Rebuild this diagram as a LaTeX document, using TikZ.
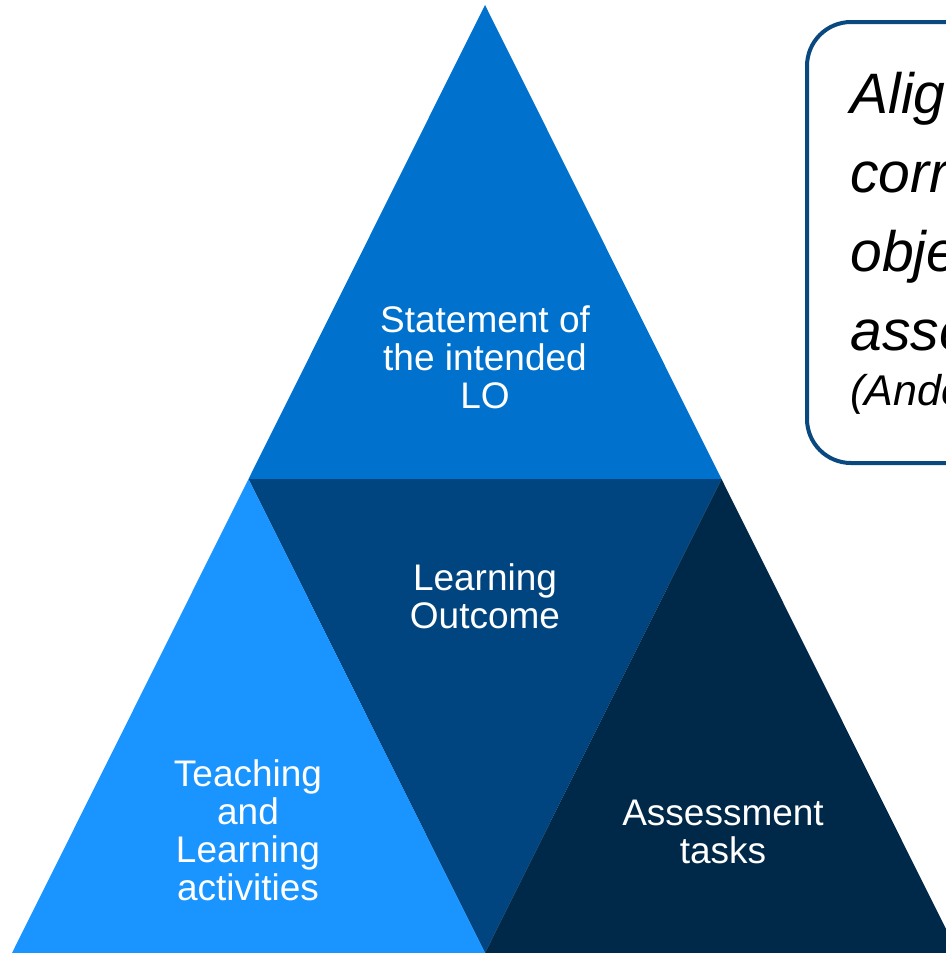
\documentclass[tikz,border=0pt]{standalone}
\usepackage{fontspec}
\setmainfont{Liberation Sans}
\usepackage{tikz}
\definecolor{TopBlue}{RGB}{0,114,206}
\definecolor{MidBlue}{RGB}{0,69,128}
\definecolor{LeftBlue}{RGB}{26,148,255}
\definecolor{RightBlue}{RGB}{0,40,72}
\definecolor{BoxLine}{RGB}{10,72,128}

\begin{document}
\begin{tikzpicture}[x=0.5pt, y=-0.5pt,
  label_text/.style={text=white, align=center, inner sep=0pt,
    font=\fontsize{18.5}{19}\selectfont},
  quote_box/.style={draw=BoxLine, line width=2pt, rounded corners=22pt}]

 \clip (0,0) rectangle (946,953);

 % corners of the big triangle and the mid points
 \coordinate (apex) at (485,5);
 \coordinate (mid_left) at (248.5,479);
 \coordinate (mid_right) at (721.5,479);
 \coordinate (bottom_left) at (12,953);
 \coordinate (bottom_mid) at (485,953);
 \coordinate (bottom_right) at (958,953);

 \fill [TopBlue] (apex) -- (mid_right) -- (mid_left) -- cycle;
 \fill [MidBlue] (mid_left) -- (mid_right) -- (bottom_mid) -- cycle;
 \fill [LeftBlue] (mid_left) -- (bottom_mid) -- (bottom_left) -- cycle;
 \fill [RightBlue] (mid_right) -- (bottom_right) -- (bottom_mid) -- cycle;


 \node [label_text] (statement) at (485,357)
     {Statement of\\the intended\\LO};

 \node [label_text] (outcome) at (485,596)
     {Learning\\Outcome};

 \node [label_text] (teaching) at (248,830)
     {Teaching\\and\\Learning\\activities};

 \node [label_text] (assessment) at (723,832)
     {Assessment\\tasks};


 \draw [quote_box] (807,22) rectangle (1040,463);

 \node [anchor=north west, inner sep=0pt, align=left,
        font=\fontsize{28.5}{39.5}\selectfont\itshape] (quote) at (850,72)
     {Alignment refers to the degree of\\correspondence among the\\objectives, instruction and\\assessment\\[-12pt]{\fontsize{21.5}{25}\selectfont (Anderson, 2002)}};

\end{tikzpicture}
\end{document}
